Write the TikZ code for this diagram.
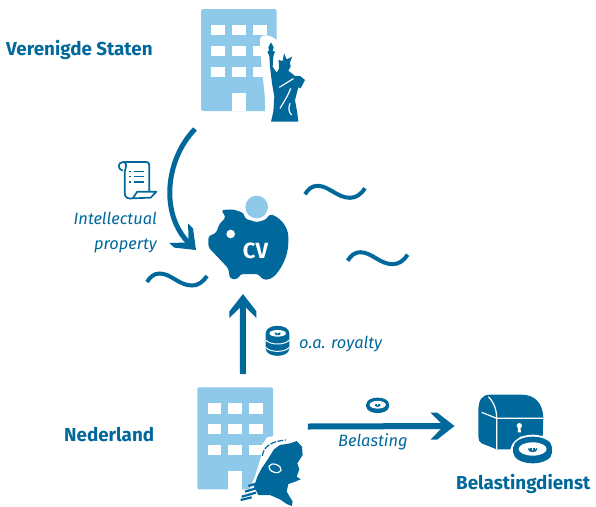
\documentclass[tikz,border=0pt]{standalone}
\usepackage{fontspec}
\setmainfont{Fira Sans}
\usepackage{xcolor}
\usetikzlibrary{arrows.meta,positioning,calc}
\definecolor{rijkblue}{HTML}{01689B}
\definecolor{rijklight}{HTML}{8FC9E9}

\pgfdeclarearrow{
    name=chevron,
    setup code={
        \pgfarrowssettipend{0pt}
        \pgfarrowssetlineend{-9pt}
        \pgfarrowssetvisualbackend{-9pt}
        \pgfarrowssetbackend{-24pt}
        \pgfarrowshullpoint{0pt}{0pt}
        \pgfarrowshullpoint{-24pt}{13.5pt}
        \pgfarrowshullpoint{-24pt}{-13.5pt}
    },
    drawing code={
        \pgfpathmoveto{\pgfqpoint{0pt}{0pt}}
        \pgfpathlineto{\pgfqpoint{-17.3pt}{13.5pt}}
        \pgfpathlineto{\pgfqpoint{-24pt}{13.5pt}}
        \pgfpathlineto{\pgfqpoint{-10.7pt}{0pt}}
        \pgfpathlineto{\pgfqpoint{-24pt}{-13.5pt}}
        \pgfpathlineto{\pgfqpoint{-17.3pt}{-13.5pt}}
        \pgfpathclose
        \pgfusepathqfill
    }
}

\tikzset{
    office/.pic={
        \fill[rijklight, rounded corners=2pt] (0,0) rectangle (75.7,102);
        \foreach \wx in {10.3,31,52} {
            \foreach \wy in {16,36.7,57.7} {
                \fill[white] (\wx,\wy) rectangle ++(13.5,10.3);
            }
        }
        \fill[white] (31,83.7) rectangle (44.7,102.2);
    },
    wave/.pic={
        \draw[rijkblue, line width=4pt] (0,0) .. controls (3,-5) and (7,-8.5) .. (12.5,-8.5)
            .. controls (24,-8.5) and (32,3.5) .. (45,3.5) .. controls (51,3.5) and (56,0) .. (60,-6);
    },
    euromark/.pic={
        \draw[rijkblue, line width=1.4pt] (-15,-3) .. controls (-13,6) and (-6,7) .. (0,7)
            .. controls (6,7) and (13,6) .. (15,-3);
        \draw[rijkblue, line width=1.2pt] (-6,-5) -- (-6,6) (5,-5) -- (5,6);
    },
    coin/.pic={
        \fill[rijkblue] (0,-8) ellipse (58 and 32);
        \fill[rijkblue] (0,8) ellipse (58 and 32);
        \fill[rijkblue] (-58,-8) rectangle (58,8);
        \fill[white] (0,-3) ellipse (42 and 20);
        \pic[transform shape, scale=0.85] at (0,-2) {euromark};
    }
}

\begin{document}
\begin{tikzpicture}[
    x=1pt, y=-1pt,
    iconbox/.style={rectangle, inner sep=0pt, outer sep=0pt},
    country/.style={text=rijkblue, inner sep=0pt, font=\fontsize{18.8}{21}\selectfont\bfseries},
    flowtext/.style={text=rijkblue, inner sep=0pt, align=right, font=\fontsize{16.4}{25}\selectfont\itshape},
    flow/.style={rijkblue, line width=6pt, -chevron}
]
    \useasboundingbox (0,0) rectangle (596,506);

    \node[iconbox, minimum width=104pt, minimum height=113pt] (usoffice) at (253,65.5) {};
    \node[iconbox, minimum width=81pt, minimum height=85pt] (piggy) at (248.5,237.5) {};
    \node[iconbox, minimum width=75pt, minimum height=119pt] (nloffice) at (234.8,446.5) {};
    \node[iconbox, minimum width=77pt, minimum height=72pt] (chest) at (517,429) {};

    \node[country, anchor=west] (usname) at (6,50) {Verenigde Staten};
    \node[country, anchor=west] (nlname) at (64,435) {Nederland};
    \node[country, anchor=west] (taxname) at (456,484) {Belastingdienst};
    \node[flowtext, anchor=east] (iplabel) at (157,232.5) {Intellectual\\property};
    \node[flowtext, anchor=west] (royaltylabel) at (299,344) {o.a. royalty};
    \node[flowtext, anchor=west] (taxlabel) at (338,442) {Belasting};

    % United States office
    \pic at (201,9) {office};
    \begin{scope}[shift={(180,0)}, scale=1/3]
        \fill[white] (240,115) .. controls (245,103) and (270,100) .. (296,125) -- (296,340) -- (255,340)
            .. controls (260,290) and (240,200) .. (240,115) -- cycle;
        \fill[rijkblue] (273,127) -- (281,142) -- (278,153) -- (285,155) -- (280,168) -- (278,200) -- (290,218)
            -- (297,206) -- (296,180) -- (308,183) -- (312,160) -- (320,178) -- (337,170) -- (330,187)
            -- (332,200) -- (325,212) -- (345,228) -- (360,228) -- (375,240) -- (362,265) -- (355,262)
            -- (345,300) -- (352,340) -- (355,365) -- (273,365) -- (280,335) -- (283,290) -- (276,250)
            -- (270,200) -- (268,168) -- (262,155) -- (267,153) -- (265,142) -- cycle;
        \draw[white, line width=1.2pt] (298,262) -- (340,236) (300,325) .. controls (315,300) and (325,285) .. (332,265)
            (335,345) .. controls (325,335) and (325,325) .. (330,310);
    \end{scope}

    % Netherlands office
    \pic at (197.3,387.3) {office};
    \begin{scope}[shift={(180,380)}, scale=1/3]
        \fill[white] (205,335) -- (225,290) -- (243,230) -- (245,195) -- (262,172) -- (290,166) -- (290,340) -- cycle;
        \fill[rijkblue] (282,208) -- (300,195) -- (330,190) -- (350,183) -- (366,200) -- (368,225) -- (352,250)
            -- (358,268) -- (350,290) -- (362,298) -- (345,305) -- (325,312) -- (320,335) -- (338,365)
            -- (335,378) -- (320,372) -- (300,358) -- (270,345) -- (235,345) -- (222,320) -- (232,290)
            -- (245,265) -- (262,240) -- cycle;
        \draw[white, line width=1.2pt, fill=rijkblue, rotate around={-20:(285,265)}] (285,265) ellipse (19 and 12);
        \draw[rijkblue, line width=1.2pt, dash pattern=on 6pt off 1.5pt] (247,228) .. controls (250,200) and (275,183) .. (318,180);
        \draw[rijkblue, line width=2.2pt] (205,318) -- (225,312) (195,335) -- (228,325) (185,350) -- (228,338) (182,360) -- (215,352);
    \end{scope}

    % piggy bank
    \begin{scope}[shift={(60,130)}, scale=1/3]
        \fill[rijkblue, rounded corners=3pt] (445,318) -- (468,310) -- (478,282) -- (498,262) -- (483,240)
            -- (520,238) -- (553,250) -- (553,265) -- (590,277) -- (620,268) -- (628,252)
            .. controls (660,262) and (685,290) .. (685,330) .. controls (685,380) and (660,425) .. (632,447)
            -- (610,450) -- (595,432) -- (540,432) -- (535,447) -- (510,447) -- (505,415) -- (470,378) -- (445,352) -- cycle;
        \fill[rijklight] (590,231) circle (34);
        \fill[white] (512,312) circle (13);
    \end{scope}
    \node[text=white, inner sep=0pt, font=\fontsize{22}{24}\selectfont\bfseries] (cvlabel) at (255.5,250.5) {CV};

    % scroll
    \begin{scope}[shift={(60,130)}, scale=1/3]
        \draw[rijkblue, line width=1.7pt, line join=round] (188,122) .. controls (172,118) and (172,96) .. (190,96)
            -- (258,96) .. controls (268,96) and (268,104) .. (268,112) -- (268,185)
            (190,96) .. controls (203,98) and (198,112) .. (194,125) -- (194,190) .. controls (194,205) and (208,207) .. (218,205)
            -- (272,203) -- (289,185) -- (232,185) -- (218,205);
        \draw[rijkblue, line width=1.4pt] (222,124) -- (252,124) (222,140) -- (252,140) (222,156) -- (252,156);
        \draw[rijkblue, line width=1.4pt] (208,124) -- (214,124) (208,140) -- (214,140) (208,156) -- (214,156);
    \end{scope}

    % coin stack
    \begin{scope}[shift={(230,290)}, scale=1/3]
        \fill[rijkblue] (107,130) .. controls (107,100) and (178,100) .. (178,130) -- (178,175)
            .. controls (178,205) and (107,205) .. (107,175) -- cycle;
        \fill[white] (143,130) ellipse (25 and 10);
        \pic[transform shape, scale=0.5] at (143,130) {euromark};
        \draw[white, line width=1pt] (107,150) .. controls (120,166) and (165,166) .. (178,150)
            (107,172) .. controls (120,188) and (165,188) .. (178,172);
    \end{scope}

    % treasure chest
    \begin{scope}[shift={(350,380)}, scale=1/3]
        \fill[rijkblue] (385,95) .. controls (385,60) and (395,44) .. (420,44) -- (515,44)
            .. controls (555,44) and (578,70) .. (580,112) -- (578,170) -- (510,170) -- (480,208) -- (440,208)
            -- (395,190) .. controls (388,185) and (385,180) .. (385,170) -- cycle;
        \draw[white, line width=1.2pt] (415,50) .. controls (435,70) and (440,95) .. (440,115) -- (440,208)
            (395,97) -- (440,115) -- (580,115);
        \fill[white] (508,137) circle (8);
        \fill[white] (505,140) -- (511,140) -- (513,157) -- (503,157) -- cycle;
        \fill[white] (548,210) ellipse (66 and 46);
        \pic[transform shape] at (548,210) {coin};
        \pic[transform shape, scale=0.58] at (83,76) {coin};
    \end{scope}

    \pic at (147,282) {wave};
    \pic at (305,194.3) {wave};
    \pic at (347.7,260.7) {wave};

    \draw[flow, line width=5pt] ([shift={(-6,7)}]usoffice.south west) .. controls (165,160) and (160,215) .. ([shift={(-12,12.5)}]piggy.west);
    \draw[flow] ([shift={(8,-13)}]nloffice.north) -- ([shift={(-5.5,14)}]piggy.south);
    \draw[flow] ([shift={(35.5,-20)}]nloffice.east) -- ([shift={(-24,-3)}]chest.west);
\end{tikzpicture}
\end{document}
